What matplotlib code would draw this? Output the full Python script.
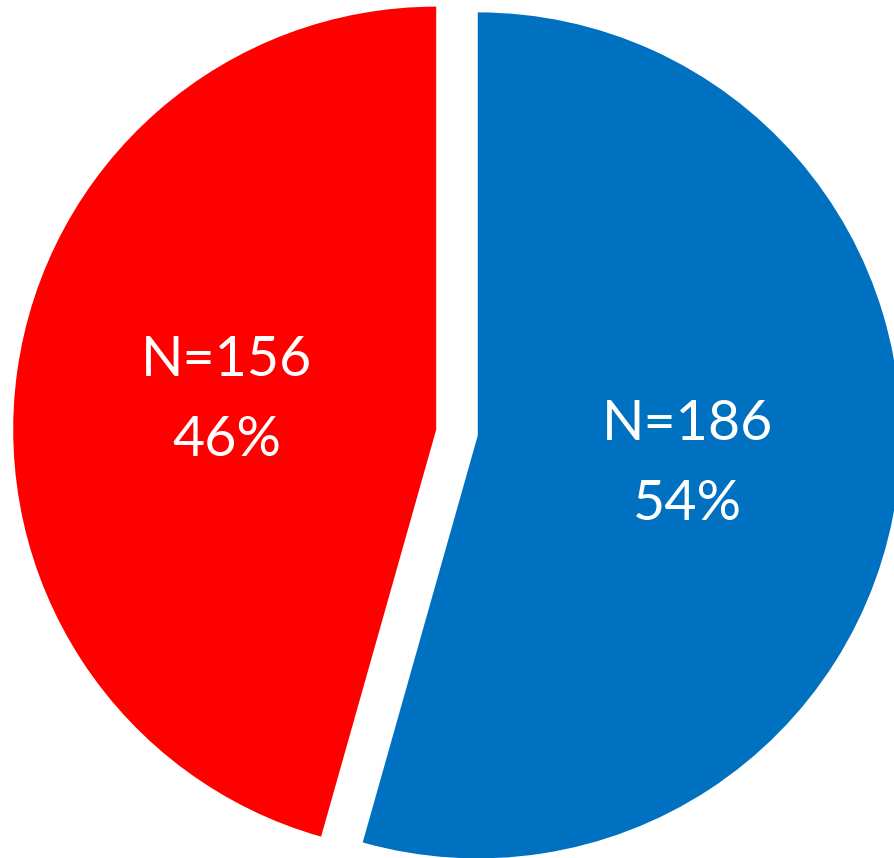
"""Two-slice pie of group sizes with count and share labels."""

import matplotlib

matplotlib.use("Agg")
import matplotlib.pyplot as plt

# slice data, drawn clockwise from 12 o'clock
groups = ["B", "A"]
counts = [186, 156]
colors = ["#0070C0", "#FF0000"]

FIG_W, FIG_H = 895, 858
RADIUS = 423
CENTER = (457, FIG_H - 432.5)
GAP = 21


def make_label(pct: float, values: list[int]):
    total = sum(values)
    n = int(round(pct * total / 100.0))
    return f"N={n}\n{pct:.0f}%"


def main() -> None:
    fig = plt.figure(figsize=(FIG_W / 100, FIG_H / 100), dpi=100)
    ax = fig.add_axes([0, 0, 1, 1])

    _, _, autotexts = ax.pie(
        counts,
        colors=colors,
        startangle=90,
        counterclock=False,
        radius=RADIUS,
        center=CENTER,
        explode=[GAP, GAP],
        autopct=lambda pct: make_label(pct, counts),
        pctdistance=0.5,
        frame=True,
        wedgeprops={"linewidth": 0},
    )
    for text in autotexts:
        text.set_color("white")
        text.set_fontsize(40)
        text.set_family("Lato")
        text.set_linespacing(1.72)

    ax.set_xlim(0, FIG_W)
    ax.set_ylim(0, FIG_H)
    ax.set_aspect("equal")
    ax.axis("off")
    fig.savefig("out.png", dpi=100)
    plt.close(fig)


if __name__ == "__main__":
    main()
